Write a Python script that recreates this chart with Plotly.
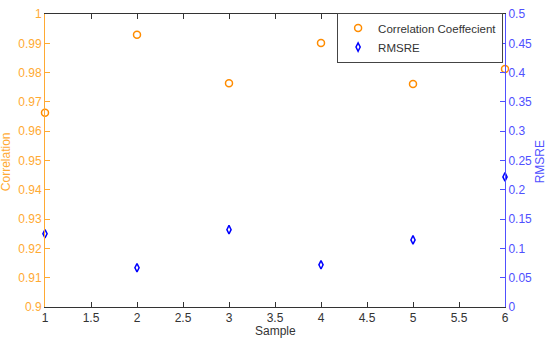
import plotly.graph_objects as go

samples = [1, 2, 3, 4, 5, 6]
correlation = [0.9663, 0.9929, 0.9764, 0.9901, 0.9761, 0.9812]
rmsre = [0.125, 0.067, 0.132, 0.072, 0.1145, 0.222]

orange_axis = "#FFAA33"
blue_axis = "#5050FF"
font = "Liberation Sans, Arial, sans-serif"

fig = go.Figure()
fig.add_trace(go.Scatter(
    x=samples, y=correlation, mode="markers", name="Correlation Coeffecient",
    marker=dict(symbol="circle-open", size=7, color="#FF8C00", line=dict(width=1.5)),
    cliponaxis=False, yaxis="y"))
fig.add_trace(go.Scatter(
    x=samples, y=rmsre, mode="markers", name="RMSRE",
    marker=dict(symbol="diamond-tall-open", size=6, color="#0000FF", line=dict(width=1.5)),
    cliponaxis=False, yaxis="y2"))

fig.update_layout(
    width=550, height=342,
    margin=dict(l=45, r=45, t=7, b=35),
    paper_bgcolor="white", plot_bgcolor="white",
    font=dict(family=font, size=12, color="#333333"),
    showlegend=True,
    legend=dict(x=0.635, y=1.005, xanchor="left", yanchor="top",
                bgcolor="white", bordercolor="#444444", borderwidth=1,
                font=dict(size=11.5, color="#333333"), tracegroupgap=0,
                itemwidth=30),
    xaxis=dict(range=[1, 6], dtick=0.5, tick0=1, ticks="inside", ticklen=5,
               showgrid=False, zeroline=False, showline=True, linecolor="#333333",
               linewidth=1, mirror="ticks", tickcolor="#333333",
               tickfont=dict(size=12, color="#333333")),
    yaxis=dict(range=[0.9, 1.0], dtick=0.01, tick0=0.9, ticks="inside", ticklen=5,
               showgrid=False, zeroline=False, showline=True, linecolor=orange_axis,
               linewidth=1, tickcolor=orange_axis,
               tickfont=dict(size=12, color=orange_axis)),
    yaxis2=dict(range=[0, 0.5], dtick=0.05, tick0=0, ticks="inside", ticklen=5,
                overlaying="y", side="right",
                showgrid=False, zeroline=False, showline=True, linecolor=blue_axis,
                linewidth=1, tickcolor=blue_axis,
                tickfont=dict(size=12, color=blue_axis)),
    annotations=[
        dict(text="Sample", xref="paper", yref="paper", x=0.5, y=-0.083,
             xanchor="center", yanchor="middle", showarrow=False,
             font=dict(size=12, color="#333333")),
        dict(text="Correlation", xref="paper", yref="paper", x=-0.083, y=0.497,
             xanchor="center", yanchor="middle", textangle=-90, showarrow=False,
             font=dict(size=12, color=orange_axis)),
        dict(text="RMSRE", xref="paper", yref="paper", x=1.076, y=0.497,
             xanchor="center", yanchor="middle", textangle=-90, showarrow=False,
             font=dict(size=12, color=blue_axis)),
    ],
)

fig.write_html("out.html", config={"displayModeBar": False},
               post_script="document.body.style.margin='0';document.body.style.overflow='hidden';")
